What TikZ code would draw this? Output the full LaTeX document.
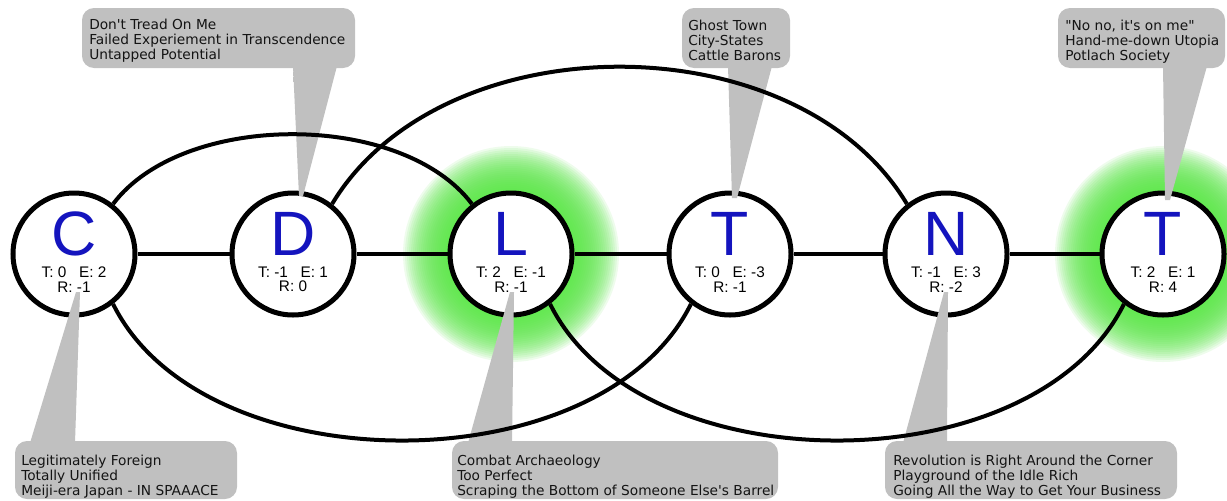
\documentclass[tikz,border=0pt]{standalone}
\usepackage{fontspec}
\setmainfont{Liberation Sans}
\newfontfamily\callfont{DejaVu Sans}
\usetikzlibrary{calc,backgrounds}
\definecolor{glowgreen}{RGB}{90,232,70}
\definecolor{letterblue}{RGB}{20,20,190}
\definecolor{callgray}{RGB}{192,192,192}
\definecolor{calltext}{RGB}{20,20,20}
\pgfdeclareverticalshading{toppointershade}{100bp}{color(0bp)=(callgray!45); color(12bp)=(callgray!75); color(25bp)=(callgray); color(100bp)=(callgray)}
\pgfdeclareverticalshading{botpointershade}{100bp}{color(0bp)=(callgray); color(72bp)=(callgray); color(85bp)=(callgray!75); color(100bp)=(callgray!50)}
\begin{document}
\begin{tikzpicture}[x=0.75pt,y=-0.75pt,
  state/.style={circle, draw=black, line width=3.75pt, fill=white, minimum size=91.5pt, inner sep=0pt},
  bigletter/.style={anchor=base, text=letterblue, font=\fontsize{47}{47}\selectfont, inner sep=0pt},
  stats/.style={anchor=north, font=\fontsize{11.5}{10.6}\selectfont, inner sep=0pt, align=center},
  link/.style={line width=3pt, draw=black},
  callbox/.style={fill=callgray, rounded corners=9pt},
  calltxt/.style={anchor=north west, font=\callfont\fontsize{10.3}{11.25}\selectfont, text=calltext, inner sep=0pt, align=left},
  toppointer/.style={shading=toppointershade},
  botpointer/.style={shading=botpointershade}
]
\useasboundingbox (0,0) rectangle (1227,500);

% states
\node[state] (c1) at (74,254) {};
\node[state] (d1) at (293,254) {};
\node[state] (l1) at (511,254) {};
\node[state] (t1) at (730,254) {};
\node[state] (n1) at (946,254) {};
\node[state] (t2) at (1163,254) {};

% background and glows
\begin{scope}[on background layer]
  \fill[white] (0,0) rectangle (1227,500);
  \foreach \r in {64,66,...,108} {
    \fill[glowgreen, fill opacity=0.1] (l1.center) circle [radius=\r];
    \fill[glowgreen, fill opacity=0.1] (t2.center) circle [radius=\r];
  }
\end{scope}

% letters
\node[bigletter] (c1l) at ($(c1)+(0,1)$) {C};
\node[bigletter] (d1l) at ($(d1)+(0,1)$) {D};
\node[bigletter] (l1l) at ($(l1)+(0,1)$) {L};
\node[bigletter] (t1l) at ($(t1)+(0,1)$) {T};
\node[bigletter] (n1l) at ($(n1)+(0,1)$) {N};
\node[bigletter] (t2l) at ($(t2)+(0,1)$) {T};

% stats
\node[stats] (c1s) at ($(c1)+(0,13)$) {T: 0\hspace{9.5pt}E: 2\\R: -1};
\node[stats] (d1s) at ($(d1)+(0,13)$) {T: -1\hspace{9.5pt}E: 1\\R: 0};
\node[stats] (l1s) at ($(l1)+(0,13)$) {T: 2\hspace{9.5pt}E: -1\\R: -1};
\node[stats] (t1s) at ($(t1)+(0,13)$) {T: 0\hspace{9.5pt}E: -3\\R: -1};
\node[stats] (n1s) at ($(n1)+(0,13)$) {T: -1\hspace{9.5pt}E: 3\\R: -2};
\node[stats] (t2s) at ($(t2)+(0,13)$) {T: 2\hspace{9.5pt}E: 1\\R: 4};

% callout pointers
\shade[toppointer] (293,66) -- (337,66) -- (303,196) -- (299,196) -- cycle;
\shade[toppointer] (728,66) -- (772,66) -- (737,198) -- (732,198) -- cycle;
\shade[toppointer] (1163,66) -- (1207,66) -- (1170,200) -- (1165,200) -- cycle;
\shade[botpointer] (30,443) -- (75,443) -- (80,292) -- (76,292) -- cycle;
\shade[botpointer] (468,443) -- (512,443) -- (514,292) -- (510,292) -- cycle;
\shade[botpointer] (903,443) -- (947,443) -- (948,292) -- (944,292) -- cycle;

% callout boxes
\fill[callbox] (82,8) rectangle (355,68);
\fill[callbox] (682,8) rectangle (790,68);
\fill[callbox] (1058,8) rectangle (1225,68);
\fill[callbox] (15,441) rectangle (237,499);
\fill[callbox] (452,441) rectangle (778,499);
\fill[callbox] (885,441) rectangle (1177,499);

% callout texts
\node[calltxt] (dtxt) at (89,18.7) {Don\textquotesingle t Tread On Me\\Failed Experiement in Transcendence\\Untapped Potential};
\node[calltxt] (t1txt) at (688,19.7) {Ghost Town\\City-States\\Cattle Barons};
\node[calltxt] (t2txt) at (1065,19.7) {"No no, it\textquotesingle s on me"\\Hand-me-down Utopia\\Potlach Society};
\node[calltxt] (ctxt) at (21,454.7) {Legitimately Foreign\\Totally Unified\\Meiji-era Japan - IN SPAAACE};
\node[calltxt] (ltxt) at (457,454.7) {Combat Archaeology\\Too Perfect\\Scraping the Bottom of Someone Else\textquotesingle s Barrel};
\node[calltxt] (ntxt) at (893,454.7) {Revolution is Right Around the Corner\\Playground of the Idle Rich\\Going All the Way to Get Your Business};

% connections
\draw[link] (c1) -- (d1);
\draw[link] (d1) -- (l1);
\draw[link] (l1) -- (t1);
\draw[link] (t1) -- (n1);
\draw[link] (n1) -- (t2);
\draw[link] (c1.52) .. controls +(70,-93) and +(-70,-93) .. (l1.128);
\draw[link] (d1.52) .. controls +(110,-183) and +(-110,-183) .. (n1.128);
\draw[link] (c1.-52) .. controls +(90,182) and +(-90,182) .. (t1.-128);
\draw[link] (l1.-52) .. controls +(90,182) and +(-90,182) .. (t2.-128);
\end{tikzpicture}
\end{document}
